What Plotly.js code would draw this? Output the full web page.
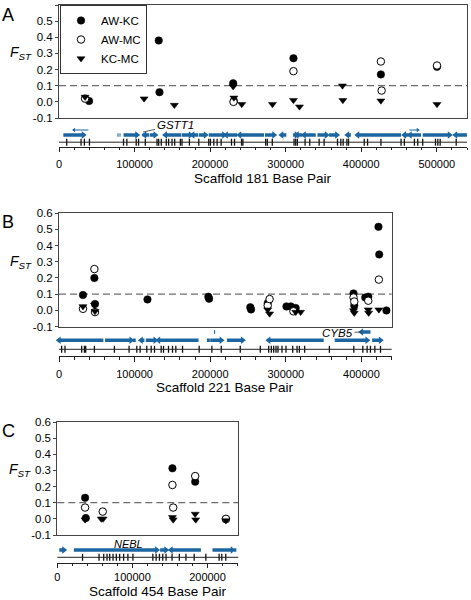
<!DOCTYPE html>
<html><head><meta charset="utf-8">
<script src="https://cdn.plot.ly/plotly-3.0.1.min.js"></script>
<style>html,body{margin:0;padding:0;background:#fff}#chart{width:471px;height:600px}</style>
</head><body><div id="chart"></div>
<script>
// ===== DATA =====
const seriesNames = ['AW-KC', 'AW-MC', 'KC-MC'];
const yTickVals = [-0.1, 0.0, 0.1, 0.2, 0.3, 0.4, 0.5, 0.6];
const yTickText = ['-0.1', '0.0', '0.1', '0.2', '0.3', '0.4', '0.5', '0.6'];
const fstThreshold = 0.1;

// Panel A: Scaffold 181
const awkcA_x = [39800, 132000, 133000, 230500, 231500, 310300, 426000, 500300];
const awkcA_y = [0.005, 0.38, 0.06, 0.115, 0.005, 0.27, 0.17, 0.217];
const awmcA_x = [34500, 231000, 310300, 426000, 427000, 500300];
const awmcA_y = [0.02, 0.0, 0.19, 0.25, 0.07, 0.225];
const kcmcA_x = [34500, 112600, 152700, 230500, 231500, 241900, 282500, 310300, 318300, 375200, 375700, 426000, 500300];
const kcmcA_y = [0.03, 0.02, -0.02, 0.095, 0.025, -0.015, -0.015, 0.01, -0.03, 0.1, 0.01, 0.007, -0.015];
const geneStartA = [5750, 77400, 80100, 85400, 110600, 113300, 120400, 140700, 162800, 177000, 185000, 198200, 221300, 239000, 272600, 294700, 309800, 315100, 324400, 342100, 357500, 381900, 395200, 457100, 464600, 481400, 524800];
const geneEndA   = [32300, 78800, 81400, 103100, 112000, 119500, 127400, 162000, 173900, 184100, 193800, 218100, 235900, 271300, 284500, 300900, 314200, 322100, 339800, 354000, 367700, 386300, 452700, 462900, 479200, 516800, 539900];
const geneStrandA = ['+', '+', '+', '+', '+', '-', '+', '-', '+', '-', '+', '+', '-', '-', '+', '-', '+', '-', '-', '+', '+', '-', '-', '-', '-', '+', '-'];
const upperStartA = [19900, 463700];
const upperEndA   = [38900, 474800];
const upperStrandA = ['-', '+'];
const snpA = [10200, 29200, 33600, 40300, 85400, 89800, 102200, 105300, 114200, 129700, 131900, 135400, 142000, 145100, 149600, 153100, 160600, 162800, 172600, 185000, 198200, 200400, 204900, 209300, 214600, 228300, 232300, 241600, 243400, 273500, 275700, 282300, 311100, 313300, 315500, 325700, 331900, 344300, 350900, 368600, 373000, 376100, 381000, 383200, 404000, 408400, 426100, 452700, 457100, 470400, 474800, 481400, 498300, 501400, 504500, 525700];
const xTicksA = [0, 100000, 200000, 300000, 400000, 500000];

// Panel B: Scaffold 221
const awkcB_x = [31700, 46800, 47600, 117000, 197500, 198500, 253000, 254000, 276000, 300800, 306600, 313000, 389500, 390500, 405000, 409000, 422500, 423500, 433000];
const awkcB_y = [0.095, 0.2, 0.04, 0.068, 0.085, 0.072, 0.02, 0.006, 0.045, 0.025, 0.025, 0.015, 0.105, 0.03, 0.08, 0.085, 0.515, 0.345, 0.0];
const awmcB_x = [31700, 46800, 47600, 276000, 278500, 310000, 389500, 390500, 409000, 423000];
const awmcB_y = [0.01, 0.255, -0.01, 0.03, 0.07, -0.005, 0.08, 0.055, 0.06, 0.19];
const kcmcB_x = [31700, 46800, 47600, 276000, 278500, 313000, 319500, 389500, 390500, 409000, 409500, 423000];
const kcmcB_y = [0.025, 0.035, -0.005, 0.005, -0.02, -0.01, -0.01, 0.0, -0.015, 0.005, -0.015, 0.005];
const geneStartB = [0, 60900, 97600, 108600, 114800, 131600, 195600, 200000, 222100, 277300, 364700, 414100];
const geneEndB   = [58700, 95400, 101500, 113000, 127200, 184500, 199500, 214600, 242800, 350100, 407500, 425200];
const geneStrandB = ['-', '+', '-', '-', '+', '-', '-', '+', '+', '-', '+', '+'];
const upperStartB = [205000, 400000];
const upperEndB   = [206500, 411900];
const upperStrandB = ['+', '-'];
const snpB = [3500, 7900, 30000, 33600, 35300, 46800, 73300, 92700, 102900, 107300, 116100, 121900, 126300, 135100, 138200, 144800, 150100, 154500, 163400, 185400, 202200, 214600, 239700, 266200, 277300, 280800, 283900, 287000, 289600, 294900, 300200, 309100, 314800, 317900, 324900, 357600, 389900, 401800, 407500, 411900, 417700, 425200];
const xTicksB = [0, 100000, 200000, 300000, 400000];

// Panel C: Scaffold 454
const awkcC_x = [37000, 38000, 153300, 183600, 224500];
const awkcC_y = [0.13, 0.005, 0.313, 0.23, -0.002];
const awmcC_x = [37000, 60500, 153300, 154300, 183600, 224500];
const awmcC_y = [0.07, 0.045, 0.21, 0.07, 0.265, 0.0];
const kcmcC_x = [37000, 58500, 61000, 153300, 154300, 183600, 184300, 224500];
const kcmcC_y = [-0.005, 0.0, 0.0, 0.01, -0.005, 0.03, -0.005, -0.01];
const geneStartC = [2600, 22100, 136900, 151400, 206600, 235300];
const geneEndC   = [8800, 132500, 144800, 191200, 233100, 238400];
const geneStrandC = ['+', '+', '+', '-', '+', '-'];
const upperStartC = [];
const upperEndC = [];
const upperStrandC = [];
const snpC = [33600, 55600, 61800, 66200, 69800, 74200, 78600, 83000, 88300, 94000, 100700, 127200, 131600, 136000, 140400, 144800, 152800, 162500, 171300, 182300, 197800, 215500, 219000, 224300];
const xTicksC = [0, 100000, 200000];

// ===== STYLE / LAYOUT =====
const W = 471, H = 600;
const FONT = 'Liberation Sans, Arial, sans-serif';
const BLUE = '#1b65a0';
const fx = p => p / W;
const fy = p => 1 - p / H;

const panels = [
  {letter: 'A', left: 59, right: 467, top: 5, bottom: 118, axisY: 146.7, trackH: 22, snpOff: 4.5, geneOff: 11.7, upperOff: 16.7, upperThin: true,
   xmax: 540000, ticks: xTicksA, title: 'Scaffold 181 Base Pair', titleX: 263, titleY: 178.5, titleSize: 13.5, fstX: 21, letterY: 15, standoff: 3, ticklen: 4.5,
   s: [[awkcA_x, awkcA_y], [awmcA_x, awmcA_y], [kcmcA_x, kcmcA_y]],
   g: [geneStartA, geneEndA, geneStrandA], u: [upperStartA, upperEndA, upperStrandA], snp: snpA},
  {letter: 'B', left: 59, right: 391.7, top: 213, bottom: 326.7, axisY: 356.3, trackH: 28, snpOff: 7, geneOff: 16, upperOff: 24.3, upperThin: false,
   xmax: 440000, ticks: xTicksB, title: 'Scaffold 221 Base Pair', titleX: 225, titleY: 387, titleSize: 13.5, fstX: 21, letterY: 221.5, standoff: 3, ticklen: 4.5,
   s: [[awkcB_x, awkcB_y], [awmcB_x, awmcB_y], [kcmcB_x, kcmcB_y]],
   g: [geneStartB, geneEndB, geneStrandB], u: [upperStartB, upperEndB, upperStrandB], snp: snpB},
  {letter: 'C', left: 57.3, right: 238.3, top: 422, bottom: 535, axisY: 562.7, trackH: 22, snpOff: 5.4, geneOff: 12.7, upperOff: 18, upperThin: false,
   xmax: 241000, ticks: xTicksC, title: 'Scaffold 454 Base Pair', titleX: 158, titleY: 591.3, titleSize: 13.5, fstX: 19.5, letterY: 430.5, standoff: 0, ticklen: 4,
   s: [[awkcC_x, awkcC_y], [awmcC_x, awmcC_y], [kcmcC_x, kcmcC_y]],
   g: [geneStartC, geneEndC, geneStrandC], u: [upperStartC, upperEndC, upperStrandC], snp: snpC}
];

const markerStyles = [
  {symbol: 'circle', size: 7.5, color: '#000', line: {color: '#000', width: 0.5}},
  {symbol: 'circle', size: 7.5, color: '#fff', line: {color: '#000', width: 1}},
  {symbol: 'triangle-down', size: 7, color: '#000', line: {color: '#000', width: 0.5}}
];

const traces = [], shapes = [], annotations = [];
const layout = {
  width: W, height: H, margin: {l: 0, r: 0, t: 0, b: 0},
  paper_bgcolor: '#fff', plot_bgcolor: '#fff',
  font: {family: FONT, color: '#000', size: 11},
  showlegend: true,
  legend: {x: fx(60), y: fy(5), xanchor: 'left', yanchor: 'top', bgcolor: '#fff', bordercolor: '#333', borderwidth: 1,
           font: {size: 11.5, family: FONT}, itemwidth: 30, tracegroupgap: 0}
};

function axId(n) { return n === 1 ? '' : String(n); }

panels.forEach((p, i) => {
  const sN = 2 * i + 1, tN = 2 * i + 2;
  const sx = 'x' + axId(sN), sy = 'y' + axId(sN), tx = 'x' + axId(tN), ty = 'y' + axId(tN);
  const xdom = [fx(p.left), fx(p.right)];
  layout['xaxis' + axId(sN)] = {domain: xdom, anchor: sy, range: [0, p.xmax], showline: true, mirror: true, linecolor: '#444', linewidth: 1,
    showticklabels: false, ticks: '', showgrid: false, zeroline: false, fixedrange: true};
  layout['yaxis' + axId(sN)] = {domain: [fy(p.bottom), fy(p.top)], anchor: sx, range: [-0.1, 0.6], showline: true, mirror: true, linecolor: '#444', linewidth: 1,
    tickvals: yTickVals, ticktext: yTickText, ticks: 'outside', ticklen: 3, tickcolor: '#444', tickfont: {size: 11.5, family: FONT},
    showgrid: false, zeroline: false, fixedrange: true};
  layout['xaxis' + axId(tN)] = {domain: xdom, anchor: ty, range: [0, p.xmax], showline: true, linecolor: '#222', linewidth: 1,
    tickvals: p.ticks, tickformat: 'd', ticks: 'outside', ticklen: p.ticklen, tickcolor: '#222', ticklabelstandoff: p.standoff,
    minor: {dtick: 20000, tick0: 0, ticks: 'outside', ticklen: 2.5, tickcolor: '#222'},
    tickfont: {size: 11, family: FONT}, showgrid: false, zeroline: false, fixedrange: true};
  layout['yaxis' + axId(tN)] = {domain: [fy(p.axisY), fy(p.axisY - p.trackH)], anchor: tx, range: [0, p.trackH], visible: false, fixedrange: true};

  // FST scatter series
  p.s.forEach((d, k) => {
    traces.push({type: 'scatter', mode: 'markers', x: d[0], y: d[1], xaxis: sx, yaxis: sy,
      name: seriesNames[k], legendgroup: seriesNames[k], showlegend: i === 0, marker: markerStyles[k], hoverinfo: 'skip', cliponaxis: false});
  });

  // threshold line
  shapes.push({type: 'line', xref: sx + ' domain', yref: sy, x0: 0, x1: 1, y0: fstThreshold, y1: fstThreshold,
    line: {color: '#6e6e6e', width: 1.3, dash: '7px,4px'}, layer: 'below'});

  // genes
  function geneTraces(starts, ends, strands, yv, width, headSize) {
    const lx = [], ly = [], hx = [], hy = [], hs = [];
    starts.forEach((s, j) => {
      lx.push(s, ends[j], null); ly.push(yv, yv, null);
      if (ends[j] - s > 4000) {
        hx.push(strands[j] === '+' ? ends[j] : s); hy.push(yv);
        hs.push(strands[j] === '+' ? 'triangle-right' : 'triangle-left');
      }
    });
    traces.push({type: 'scatter', mode: 'lines', x: lx, y: ly, xaxis: tx, yaxis: ty, showlegend: false, hoverinfo: 'skip',
      line: {color: BLUE, width: width}, cliponaxis: false});
    traces.push({type: 'scatter', mode: 'markers', x: hx, y: hy, xaxis: tx, yaxis: ty, showlegend: false, hoverinfo: 'skip',
      marker: {symbol: hs, size: headSize, color: BLUE, line: {width: 0}}, cliponaxis: false});
  }
  geneTraces(p.g[0], p.g[1], p.g[2], p.geneOff, 3.5, 6.5);
  if (p.u[0].length) geneTraces(p.u[0], p.u[1], p.u[2], p.upperOff, p.upperThin ? 1 : 3.5, p.upperThin ? 4 : 6.5);

  // SNP row
  shapes.push({type: 'line', xref: tx + ' domain', yref: ty, x0: 0, x1: 1, y0: p.snpOff, y1: p.snpOff, line: {color: '#222', width: 1}});
  traces.push({type: 'scatter', mode: 'markers', x: p.snp, y: p.snp.map(() => p.snpOff), xaxis: tx, yaxis: ty, showlegend: false, hoverinfo: 'skip',
    marker: {symbol: 'line-ns-open', size: 5, color: '#111', line: {color: '#111', width: 1.3}}, cliponaxis: false});

  // annotations
  annotations.push({xref: 'paper', yref: 'paper', x: fx(8), y: fy(p.letterY), text: p.letter, showarrow: false,
    font: {size: 18, family: FONT, color: '#000'}, xanchor: 'center', yanchor: 'middle'});
  annotations.push({xref: 'paper', yref: sy, x: fx(p.fstX), y: 0.3, text: '<i>F</i><sub><i>ST</i></sub>', showarrow: false,
    font: {size: 14, family: FONT, color: '#000'}, xanchor: 'center', yanchor: 'middle'});
  annotations.push({xref: 'paper', yref: 'paper', x: fx(p.titleX), y: fy(p.titleY), text: p.title, showarrow: false,
    font: {size: p.titleSize, family: FONT, color: '#000'}, xanchor: 'center', yanchor: 'middle'});
});

// gene name labels
annotations.push({xref: 'x2', yref: 'y2', x: 111300, y: 14.7, text: '<i>GSTT1</i>', showarrow: true, arrowhead: 0, arrowwidth: 0.8, arrowcolor: '#333',
  axref: 'pixel', ayref: 'pixel', ax: 32, ay: -7, font: {size: 11.5, family: FONT, color: '#000'}, standoff: 0});
annotations.push({xref: 'x4', yref: 'y4', x: 400000, y: 24.3, text: '<i>CYB5</i>', showarrow: true, arrowhead: 0, arrowwidth: 0.8, arrowcolor: '#333',
  axref: 'pixel', ayref: 'pixel', ax: -24, ay: 1, font: {size: 11.5, family: FONT, color: '#000'}});
annotations.push({xref: 'x6', yref: 'paper', x: 95000, y: fy(544), text: '<i>NEBL</i>', showarrow: false,
  font: {size: 11, family: FONT, color: '#000'}, xanchor: 'center', yanchor: 'middle'});

layout.shapes = shapes;
layout.annotations = annotations;

Plotly.newPlot('chart', traces, layout, {staticPlot: true, displayModeBar: false});
</script>
</body></html>
